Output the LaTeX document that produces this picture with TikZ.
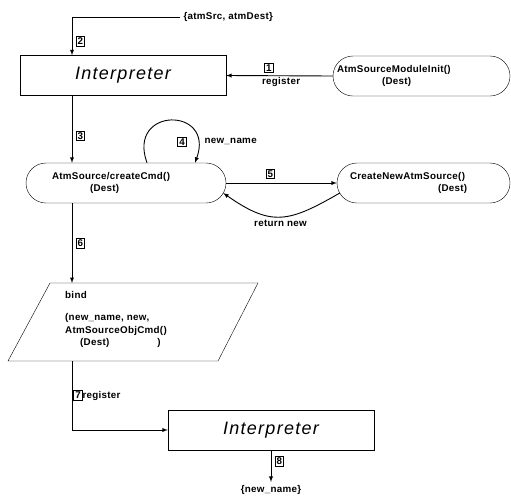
\documentclass[tikz,border=0pt]{standalone}
\usepackage{fontspec}
\setmainfont[LetterSpace=3]{Liberation Sans}
\newfontfamily\interpfont[LetterSpace=7]{Liberation Sans}
\usetikzlibrary{arrows,positioning}
\tikzset{%
  interp/.style = {draw, rectangle, minimum width = 206pt,
    minimum height = 40pt, font = \interpfont\itshape\fontsize{18}{21}\selectfont},
  proc/.style   = {draw, rectangle, rounded corners = 20pt,
    minimum height = 40pt, align = left, inner ysep = 0pt}, % Procedure
  conn/.style   = {-latex, line width = 0.9pt} % Connection
}
\newcommand{\stepno}[1]{{\setlength\fboxsep{1pt}\setlength\fboxrule{0.8pt}\fbox{#1}}}

\begin{document}
\begin{tikzpicture}[x=1pt, y=1pt,
            font=\bfseries\fontsize{9.8}{12.5}\selectfont,
            ]
            \useasboundingbox (0,0) rectangle (511,-496);

            % Vertical spine of the flow
            \coordinate (spine) at (72,0);

            % Arguments
            \node[anchor=west] (src) at (180,-17) {\{atmSrc, atmDest\}};

            % Interpreter
            \node[interp] (interp1) at (123,-75.5) {Interpreter};

            % Module init
            \node[proc, text width=169pt, inner xsep=4pt] (init) at (421.5,-76)
                {AtmSourceModuleInit()\\\hspace*{45pt}(Dest)};

            % Create command
            \node[proc, text width=148pt, inner xsep=26pt] (create) at (126,-183)
                {AtmSource/createCmd()\\\hspace*{38pt}(Dest)};
            \node[proc, text width=147pt, inner xsep=13pt] (newsrc) at (423.5,-183)
                {CreateNewAtmSource()\\\hspace*{88pt}(Dest)};

            % Bind (parallelogram)
            \coordinate (bind-sw) at (8,-361);
            \coordinate (bind-nw) at (50,-283);
            \coordinate (bind-ne) at (258,-283);
            \coordinate (bind-se) at (218,-361);
            \draw (bind-sw) -- (bind-nw) -- (bind-ne) -- (bind-se) -- cycle;
            \node[anchor=north west, align=left, inner sep=0pt] (bindtxt) at (65,-291)
                {bind\\[10pt](new\_name, new,\\AtmSourceObjCmd()\\\hspace*{15pt}(Dest)\hspace{48pt})};

            % Second interpreter and result
            \node[interp] (interp2) at (271,-430) {Interpreter};
            \node (out) at (271,-490) {\{new\_name\}};

            % Loop labels
            \node (n4) at (182,-142) {\stepno{4}};
            \node[anchor=west] (newname) at (201,-141) {new\_name};

            % Connections
            \draw[conn] (src.west) -| (spine |- interp1.north)
                node[pos=0.82, right] {\stepno{2}};
            \draw[conn] (init.west) -- (interp1.east)
                node[pos=0.6, above, inner sep=2pt] {\stepno{1}}
                node[pos=0.485, below, inner sep=1pt] {register};
            \draw[conn] (spine |- interp1.south) -- (spine |- create.north)
                node[pos=0.6, right] {\stepno{3}};
            \draw[conn] ([xshift=21pt]create.north) .. controls +(110:60) and +(70:60) .. ([xshift=69pt]create.north);
            \draw[conn] (create.east) -- (newsrc.west)
                node[pos=0.4, above] {\stepno{5}};
            \draw[conn] ([xshift=3pt,yshift=-10pt]newsrc.west) to[out=-150, in=-35, looseness=1.3]
                node[midway, below] {return new} ([xshift=-3pt,yshift=-10pt]create.east);
            \draw[conn] (spine |- create.south) -- (spine |- bind-nw)
                node[midway, right] {\stepno{6}};
            \draw[conn] (spine |- bind-sw) |- (interp2.west)
                node[pos=0.25, right, inner sep=1pt] {\stepno{7}register};
            \draw[conn] (interp2.south) -- (out.north)
                node[pos=0.35, right] {\stepno{8}};

        \end{tikzpicture}
\end{document}
